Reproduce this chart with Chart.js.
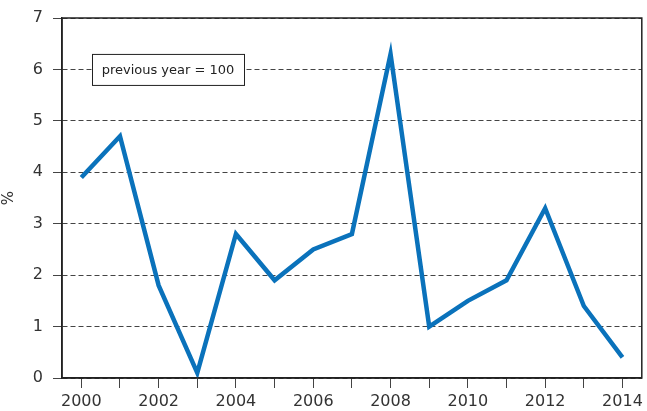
<!DOCTYPE html>
<html><head><meta charset="utf-8">
<script src="https://cdn.jsdelivr.net/npm/chart.js@4/dist/chart.umd.min.js"></script>
<style>html,body{margin:0;padding:0;background:#fff}#wrap{width:647px;height:411px}</style>
</head><body><div id="wrap"><canvas id="c" width="647" height="411"></canvas></div>
<script>
const years = ['2000','2001','2002','2003','2004','2005','2006','2007','2008','2009','2010','2011','2012','2013','2014'];
const values = [3.9,4.7,1.8,0.1,2.8,1.9,2.5,2.8,6.3,1.0,1.5,1.9,3.3,1.4,0.4];
const yTicks = [0,1,2,3,4,5,6,7];
const noteText = 'previous year = 100';
const yTitle = '%';

const FONT = 'DejaVu Sans';

const frame = {
  id: 'frame',
  afterDraw(chart) {
    const {ctx, chartArea: a} = chart;
    ctx.save();
    ctx.strokeStyle = '#222';
    ctx.lineWidth = 1.5;
    ctx.strokeRect(a.left, a.top, a.right - a.left, a.bottom - a.top);
    const y6 = chart.scales.y.getPixelForValue(6);
    const bx = a.left + 30, bw = 152, bh = 31;
    ctx.fillStyle = '#fff';
    ctx.fillRect(bx, y6 - bh/2, bw, bh);
    ctx.lineWidth = 1;
    ctx.strokeStyle = '#222';
    ctx.strokeRect(bx + 0.5, y6 - bh/2 + 0.5, bw, bh);
    ctx.fillStyle = '#222';
    ctx.font = '13px "' + FONT + '"';
    ctx.textAlign = 'center';
    ctx.textBaseline = 'middle';
    ctx.fillText(noteText, bx + bw/2, y6 + 1);
    ctx.restore();
  }
};

new Chart(document.getElementById('c'), {
  type: 'line',
  data: {
    labels: years,
    datasets: [{
      data: values,
      borderColor: '#0a72bb',
      borderWidth: 4.5,
      pointRadius: 0,
      tension: 0,
      fill: false
    }]
  },
  options: {
    responsive: false,
    animation: false,
    layout: {padding: {top: 17, right: 5, left: 0, bottom: 0}},
    plugins: {legend: {display: false}, tooltip: {enabled: false}},
    scales: {
      x: {
        type: 'category',
        offset: true,
        grid: {display: true, drawOnChartArea: false, tickLength: 10, color: '#444', offset: false},
        border: {display: true, color: '#222', width: 1.5},
        ticks: {
          autoSkip: false, maxRotation: 0, padding: 4,
          color: '#333', font: {family: FONT, size: 16},
          callback: function(v, i) { const l = years[i]; return (parseInt(l) % 2 === 0) ? l : ''; }
        },
        afterFit(s) { s.height = 33; }
      },
      y: {
        min: 0, max: 7,
        afterBuildTicks(s) { s.ticks = yTicks.map(v => ({value: v})); },
        grid: {color: '#444', lineWidth: 1, tickLength: 9, drawTicks: true},
        border: {display: true, color: '#222', width: 1.5, dash: [5, 3]},
        ticks: {padding: 10, color: '#333', font: {family: FONT, size: 16, lineHeight: 1}},
        title: {display: true, text: yTitle, color: '#333', font: {family: FONT, size: 15}, padding: {top: 0, bottom: 0}},
        afterFit(s) { s.width = 62; }
      }
    }
  },
  plugins: [frame]
});
</script></body></html>
